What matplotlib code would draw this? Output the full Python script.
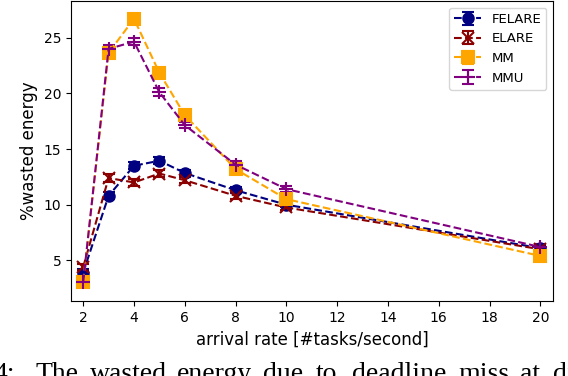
import matplotlib
matplotlib.use("Agg")
import matplotlib.pyplot as plt

rates = [2, 3, 4, 5, 6, 8, 10, 20]
felare = [3.9, 10.8, 13.5, 13.95, 12.85, 11.3, 10.0, 6.1]
elare = [4.4, 12.4, 12.0, 12.8, 12.2, 10.8, 9.75, 6.0]
mm = [3.1, 23.65, 26.7, 21.85, 18.05, 13.2, 10.5, 5.4]
mmu = [3.05, 24.0, 24.65, 20.1, 17.15, 13.6, 11.4, 6.2]
felare_err = [0.3, 0.3, 0.3, 0.3, 0.25, 0.25, 0.2, 0.2]
elare_err = [0.3, 0.35, 0.3, 0.3, 0.25, 0.25, 0.2, 0.2]
mm_err = [0.3, 0.3, 0.3, 0.3, 0.3, 0.3, 0.3, 0.3]
mmu_err = [0.3, 0.35, 0.3, 0.35, 0.3, 0.3, 0.3, 0.25]
xticks = [2, 4, 6, 8, 10, 12, 14, 16, 18, 20]
yticks = [5, 10, 15, 20, 25]
caption_words = ["4:", "The", "wasted", "energy", "due", "to", "deadline", "miss", "at", "di"]
caption_x = [-6, 35, 90, 177, 263, 316, 352, 458, 520, 553]

fig = plt.figure(figsize=(5.68, 3.76), dpi=100)
ax = fig.add_axes([71/568, 1 - 301/376, (553-71)/568, 300/376])

series = [
    ("FELARE", felare, felare_err, "navy", "o", 7.5),
    ("ELARE", elare, elare_err, "darkred", "x", 8),
    ("MM", mm, mm_err, "orange", "s", 9),
    ("MMU", mmu, mmu_err, "purple", "+", 10),
]
for name, vals, err, col, mk, ms in series:
    ax.errorbar(rates, vals, yerr=err, color=col, marker=mk, markersize=ms,
                linestyle="--", linewidth=1.5, capsize=4, label=name,
                markeredgewidth=1.5)

ax.set_xlim(1.52, 20.5)
ax.set_ylim(1.35, 28.3)
ax.set_xticks(xticks)
ax.set_yticks(yticks)
ax.tick_params(labelsize=10)
ax.set_xlabel("arrival rate [#tasks/second]", fontsize=12)
ax.set_ylabel("%wasted energy", fontsize=12)
ax.legend(loc="upper right", fontsize=9.5)

for w, xp in zip(caption_words, caption_x):
    fig.text(xp / 568, -5 / 376, w, family="Liberation Serif", fontsize=20,
             ha="left", va="baseline")

fig.savefig("out.png", dpi=100)
